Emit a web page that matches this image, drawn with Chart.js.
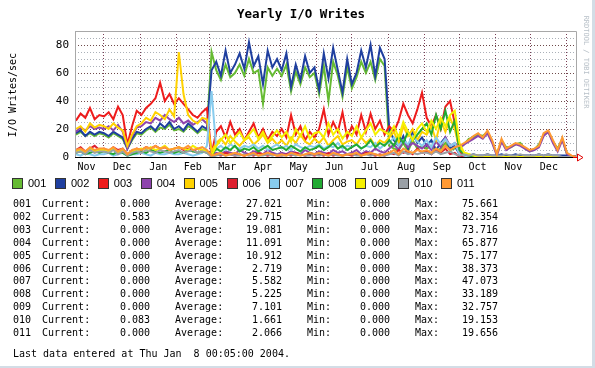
<!DOCTYPE html>
<html>
<head>
    <title>Yearly I/O Writes</title>
    <script src="https://cdn.jsdelivr.net/npm/chart.js@4/dist/chart.umd.min.js"></script>
    <style>
        body {
            margin: 0;
            background-color: #ffffff;
            font-family: "DejaVu Sans Mono", monospace;
        }
        .page {
            position: relative;
            width: 595px;
            height: 368px;
            overflow: hidden;
            background-color: #ffffff;
        }
        #chart {
            position: absolute;
            left: 0;
            top: 0;
        }
        .title {
            position: absolute;
            top: 6px;
            left: 0;
            width: 602px;
            text-align: center;
            font-weight: bold;
            font-size: 12.5px;
            color: #000;
        }
        .ylabel {
            position: absolute;
            left: 12px;
            top: 95px;
            font-size: 10px;
            white-space: nowrap;
            transform: translate(-50%, -50%) rotate(-90deg);
        }
        .stamp {
            position: absolute;
            left: 586px;
            top: 62px;
            font-size: 7px;
            color: #b8c0c8;
            white-space: nowrap;
            transform: translate(-50%, -50%) rotate(90deg);
        }
        .edge-r {
            position: absolute; right: 0; top: 0; width: 3px; height: 368px;
            background: #d3dde6;
        }
        .edge-b {
            position: absolute; left: 0; bottom: 0; width: 595px; height: 2px;
            background: #d3dde6;
        }
        .legend-item {
            position: absolute;
            top: 178px;
            font-family: "Liberation Sans", Arial, sans-serif;
            font-size: 11px;
            line-height: 11px;
            white-space: nowrap;
        }
        .legend-item span {
            display: inline-block;
            width: 9px;
            height: 9px;
            border: 1px solid #333;
            vertical-align: top;
            margin-right: 5px;
        }
        .stat {
            position: absolute;
            font-size: 10px;
            line-height: 10px;
            white-space: pre;
        }
    </style>
</head>
<body>
<div class="page" id="page">
    <canvas id="chart" width="595" height="368"></canvas>
    <div class="title">Yearly I/O Writes</div>
    <div class="ylabel">I/O Writes/sec</div>
    <div class="stamp">RRDTOOL / TOBI OETIKER</div>
    <div class="edge-r"></div>
    <div class="edge-b"></div>
</div>

<script>
    // time axis: days counted from 1 Nov 2002, one sample every 4 days
    const days = Array.from({length: 108}, (_, i) => 6 + 4 * i);

    const monthLabels = ['Nov', 'Dec', 'Jan', 'Feb', 'Mar', 'Apr', 'May', 'Jun',
                         'Jul', 'Aug', 'Sep', 'Oct', 'Nov', 'Dec'];
    const monthStarts = [0, 30, 61, 92, 120, 151, 181, 212, 242, 273, 304, 334, 365, 395, 426];

    const seriesNames = ['001', '002', '003', '004', '005', '006', '007', '008', '009', '010', '011'];
    const seriesColors = ['#66bb33', '#1f3f9f', '#ee1c1c', '#8e44ad', '#ffd200', '#dd1f2f',
                          '#88ccee', '#22aa33', '#f5f000', '#9aa0a6', '#ff9933'];

    const s001 = [16, 18, 15, 17, 15, 17,
                  16, 14, 17, 15, 13, 6, 12, 17,
                  16, 19, 21, 18, 21, 20, 23, 19,
                  20, 18, 22, 20, 17, 20, 19,
                  75, 62, 55, 66, 57, 60, 66, 58,
                  70, 60, 62, 38, 64, 58, 63,
                  58, 66, 47, 61, 52, 64, 57, 60,
                  45, 65, 40, 68, 58, 43, 64,
                  49, 57, 68, 60, 68, 55, 70, 65,
                  8, 6, 5, 10, 4, 12, 6, 8,
                  6, 8, 4, 6, 10, 5, 6,
                  7, 9, 13, 14, 16, 15, 18, 11,
                  2, 12, 7, 7, 9, 10, 6, 4,
                  5, 9, 16, 18, 11, 6, 13,
                  2, 0.5, 0];
    const s002 = [17, 19, 15, 18, 16, 18,
                  17, 15, 18, 16, 14, 6, 13, 18,
                  17, 20, 22, 19, 24, 21, 25, 20,
                  22, 19, 24, 21, 18, 22, 20,
                  62, 68, 58, 76, 60, 66, 74, 63,
                  82, 65, 72, 52, 76, 64, 70,
                  62, 74, 50, 66, 55, 72, 60, 64,
                  48, 74, 56, 78, 62, 46, 70,
                  52, 60, 76, 64, 80, 58, 78, 70,
                  20, 12, 8, 15, 6, 18, 10, 14,
                  8, 12, 5, 10, 14, 6, 8,
                  2, 1, 1, 2, 1, 1, 2, 1,
                  1, 2, 1, 1, 2, 1, 1, 1,
                  1, 2, 1, 2, 1, 1, 1,
                  1, 0.6, 0.6];
    const s003 = [26, 31, 28, 35, 27, 30,
                  29, 32, 27, 36, 30, 9, 22, 33,
                  30, 35, 38, 42, 53, 40, 45, 38,
                  42, 38, 34, 30, 28, 32, 35,
                  2, 18, 22, 14, 25, 16, 20, 12,
                  18, 24, 14, 20, 12, 18, 15,
                  20, 14, 30, 16, 22, 12, 18, 14,
                  20, 34, 16, 25, 18, 32, 14,
                  22, 16, 30, 18, 31, 20, 26, 16,
                  22, 18, 26, 38, 30, 24, 34, 46,
                  28, 22, 30, 20, 36, 40, 24,
                  4, 1, 0, 0, 0, 0, 0, 0,
                  0, 0, 0, 0, 0, 0, 0, 0,
                  0, 0, 0, 0, 0, 0, 0,
                  0, 0, 0];
    const s004 = [18, 21, 19, 22, 20, 21,
                  20, 22, 19, 23, 18, 6, 15, 21,
                  22, 25, 24, 28, 26, 30, 27, 25,
                  28, 24, 26, 23, 25, 27, 24,
                  1, 3, 2, 4, 3, 2, 5, 3,
                  2, 4, 3, 2, 5, 3, 2,
                  3, 2, 4, 3, 2, 5, 3, 2,
                  4, 3, 2, 5, 3, 4, 2,
                  3, 5, 2, 4, 3, 6, 4, 3,
                  6, 9, 5, 12, 7, 10, 8, 6,
                  9, 5, 11, 7, 14, 8, 10,
                  6, 9, 11, 13, 15, 13, 17, 10,
                  1, 11, 5, 7, 9, 8, 6, 4,
                  5, 7, 15, 18, 10, 4, 12,
                  2, 0, 0];
    const s005 = [20, 22, 18, 24, 21, 23,
                  22, 20, 24, 21, 19, 8, 16, 22,
                  24, 28, 26, 32, 30, 27, 34, 29,
                  75, 45, 30, 26, 24, 28, 27,
                  4, 10, 13, 9, 15, 11, 8, 12,
                  14, 9, 12, 16, 10, 13, 9,
                  12, 8, 14, 10, 16, 11, 9, 13,
                  10, 14, 8, 12, 15, 9, 11,
                  12, 9, 14, 10, 13, 8, 12, 10,
                  14, 18, 10, 22, 15, 20, 12, 18,
                  16, 22, 12, 26, 18, 28, 20,
                  6, 3, 2, 1, 1, 0, 0, 0,
                  0, 0, 0, 0, 0, 0, 0, 0,
                  0, 0, 0, 0, 0, 0, 0,
                  0, 0, 0];
    const s006 = [5, 7, 4, 6, 8, 5,
                  6, 4, 7, 5, 6, 2, 4, 6,
                  5, 7, 6, 8, 6, 7, 5, 6,
                  7, 5, 6, 4, 6, 5, 4,
                  0, 2, 1, 3, 2, 1, 2, 1,
                  2, 1, 3, 2, 1, 2, 1,
                  1, 2, 1, 3, 2, 1, 2, 1,
                  2, 1, 3, 1, 2, 1, 2,
                  1, 2, 1, 3, 2, 1, 2, 1,
                  3, 2, 5, 3, 4, 2, 6, 3,
                  4, 2, 5, 3, 6, 2, 3,
                  0, 0, 0, 0, 0, 0, 0, 0,
                  0, 0, 0, 0, 0, 0, 0, 0,
                  0, 0, 0, 0, 0, 0, 0,
                  0, 0, 0];
    const s007 = [2, 1, 3, 2, 1, 2,
                  2, 3, 1, 2, 3, 1, 2, 2,
                  3, 2, 1, 3, 2, 2, 3, 2,
                  2, 3, 2, 1, 2, 3, 8,
                  47, 6, 8, 5, 9, 7, 6, 8,
                  7, 9, 6, 8, 5, 7, 9,
                  6, 8, 5, 9, 7, 6, 8, 7,
                  9, 6, 8, 7, 10, 6, 8,
                  7, 9, 6, 8, 7, 10, 6, 9,
                  10, 14, 8, 12, 9, 15, 11, 8,
                  12, 7, 14, 9, 13, 8, 10,
                  2, 1, 0, 0, 0, 0, 0, 0,
                  0, 0, 0, 0, 0, 0, 0, 0,
                  0, 0, 0, 0, 0, 0, 0,
                  0, 0, 0];
    const s008 = [3, 4, 2, 3, 4, 3,
                  4, 3, 2, 4, 3, 1, 2, 3,
                  4, 3, 5, 4, 3, 4, 5, 3,
                  4, 3, 5, 4, 3, 4, 3,
                  1, 6, 4, 7, 5, 8, 4, 6,
                  5, 7, 4, 6, 8, 5, 6,
                  7, 5, 8, 6, 4, 7, 5, 6,
                  8, 5, 7, 10, 6, 8, 5,
                  7, 9, 6, 8, 12, 7, 10, 8,
                  12, 8, 15, 10, 18, 12, 16, 20,
                  24, 16, 30, 20, 33, 18, 26,
                  5, 2, 1, 0, 0, 0, 0, 0,
                  0, 0, 0, 0, 0, 0, 0, 0,
                  0, 0, 0, 0, 0, 0, 0,
                  0, 0, 0];
    const s009 = [4, 5, 3, 6, 4, 5,
                  5, 4, 6, 3, 5, 2, 4, 5,
                  6, 5, 7, 5, 6, 8, 5, 6,
                  7, 6, 5, 8, 6, 5, 4,
                  1, 8, 12, 16, 10, 14, 18, 12,
                  16, 20, 13, 18, 11, 15, 19,
                  14, 18, 11, 20, 15, 22, 13, 17,
                  18, 14, 24, 16, 20, 13, 18,
                  15, 22, 14, 19, 24, 16, 20, 18,
                  16, 22, 14, 25, 18, 12, 20, 24,
                  18, 26, 20, 28, 22, 30, 33,
                  10, 3, 2, 1, 0, 0, 0, 0,
                  0, 0, 0, 0, 0, 0, 0, 0,
                  0, 0, 0, 0, 0, 0, 0,
                  0, 0, 0];
    const s010 = [3, 4, 2, 5, 3, 4,
                  4, 3, 5, 2, 4, 1, 3, 4,
                  3, 5, 4, 3, 5, 4, 3, 4,
                  5, 3, 4, 5, 3, 4, 3,
                  0, 1, 2, 1, 2, 1, 1, 2,
                  1, 2, 1, 1, 2, 1, 2,
                  1, 1, 2, 1, 2, 1, 1, 2,
                  1, 2, 1, 2, 1, 1, 2,
                  2, 1, 1, 2, 1, 2, 1, 1,
                  2, 3, 1, 4, 2, 3, 2, 3,
                  3, 2, 4, 2, 3, 4, 2,
                  1, 2, 1, 2, 1, 1, 2, 1,
                  1, 1, 2, 1, 1, 2, 1, 1,
                  1, 2, 1, 2, 1, 1, 0,
                  0, 0.1, 0.1];
    const s011 = [5, 6, 4, 7, 5, 6,
                  6, 5, 7, 4, 6, 2, 5, 6,
                  5, 7, 6, 8, 6, 7, 5, 6,
                  7, 6, 8, 5, 6, 7, 5,
                  1, 2, 3, 1, 2, 3, 2, 1,
                  2, 3, 1, 2, 3, 2, 1,
                  2, 1, 3, 2, 1, 2, 3, 2,
                  3, 2, 1, 3, 2, 1, 2,
                  2, 3, 1, 2, 3, 2, 1, 2,
                  3, 5, 2, 6, 4, 3, 5, 4,
                  5, 3, 6, 4, 8, 5, 7,
                  8, 10, 12, 15, 17, 14, 19, 12,
                  2, 13, 6, 8, 10, 9, 7, 5,
                  6, 8, 17, 19, 12, 5, 14,
                  3, 1, 0];

    const seriesValues = [s001, s002, s003, s004, s005, s006, s007, s008, s009, s010, s011];

    // summary lines under the graph
    const statCurrent = [0.000, 0.583, 0.000, 0.000, 0.000, 0.000, 0.000, 0.000, 0.000, 0.083, 0.000];
    const statAverage = [27.021, 29.715, 19.081, 11.091, 10.912, 2.719, 5.582, 5.225, 7.101, 1.661, 2.066];
    const statMin = [0.000, 0.000, 0.000, 0.000, 0.000, 0.000, 0.000, 0.000, 0.000, 0.000, 0.000];
    const statMax = [75.661, 82.354, 73.716, 65.877, 75.177, 38.373, 47.073, 33.189, 32.757, 19.153, 19.656];

    const page = document.getElementById('page');

    // legend row
    seriesNames.forEach((name, i) => {
        const div = document.createElement('div');
        div.className = 'legend-item';
        div.style.left = (12 + i * 42.9) + 'px';
        div.innerHTML = '<span style="background:' + seriesColors[i] + '"></span>' + name;
        page.appendChild(div);
    });

    function addText(text, x, y, alignRight) {
        const div = document.createElement('div');
        div.className = 'stat';
        div.textContent = text;
        div.style.top = (y - 5) + 'px';
        if (alignRight) {
            div.style.right = (595 - x) + 'px';
        } else {
            div.style.left = x + 'px';
        }
        page.appendChild(div);
    }

    seriesNames.forEach((name, i) => {
        const y = 204 + i * 12.9;
        addText(name, 13, y);
        addText('Current:', 42, y);
        addText(statCurrent[i].toFixed(3), 150, y, true);
        addText('Average:', 175, y);
        addText(statAverage[i].toFixed(3), 282, y, true);
        addText('Min:', 307, y);
        addText(statMin[i].toFixed(3), 390, y, true);
        addText('Max:', 415, y);
        addText(statMax[i].toFixed(3), 498, y, true);
    });
    addText('Last data entered at Thu Jan  8 00:05:00 2004.', 13, 354);

    // month boundaries get grid lines, mid months get the labels
    const gridTicks = [];
    const labelAt = {};
    monthLabels.forEach((m, i) => {
        const mid = (monthStarts[i] + monthStarts[i + 1]) / 2;
        labelAt[mid] = m;
        gridTicks.push({value: mid});
        if (i > 0) gridTicks.push({value: monthStarts[i]});
    });
    gridTicks.push({value: monthStarts[monthStarts.length - 1]});
    gridTicks.sort((a, b) => a.value - b.value);

    const frame = {
        id: 'frame',
        afterDraw(chart) {
            const {ctx, chartArea: a} = chart;
            ctx.save();
            ctx.strokeStyle = '#a8a8a8';
            ctx.lineWidth = 1;
            ctx.beginPath();
            ctx.moveTo(a.left + 0.5, a.bottom);
            ctx.lineTo(a.left + 0.5, a.top + 0.5);
            ctx.lineTo(a.right + 0.5, a.top + 0.5);
            ctx.lineTo(a.right + 0.5, a.bottom);
            ctx.stroke();
            // x axis with arrow
            ctx.strokeStyle = '#000';
            ctx.beginPath();
            ctx.moveTo(a.left, a.bottom + 0.5);
            ctx.lineTo(a.right, a.bottom + 0.5);
            ctx.stroke();
            ctx.strokeStyle = '#e00000';
            ctx.beginPath();
            ctx.moveTo(a.right - 3, a.bottom + 0.5);
            ctx.lineTo(a.right + 2, a.bottom + 0.5);
            ctx.moveTo(a.right + 1.5, a.bottom - 3);
            ctx.lineTo(a.right + 7, a.bottom + 0.5);
            ctx.lineTo(a.right + 1.5, a.bottom + 4);
            ctx.closePath();
            ctx.stroke();
            ctx.restore();
        }
    };

    new Chart(document.getElementById('chart'), {
        type: 'line',
        data: {
            datasets: seriesNames.map((name, i) => ({
                label: name,
                data: days.map((d, k) => ({x: d, y: seriesValues[i][k]})),
                borderColor: seriesColors[i],
                backgroundColor: seriesColors[i],
                borderWidth: 2,
                pointRadius: 0,
                tension: 0,
                order: seriesNames.length - i
            }))
        },
        options: {
            responsive: false,
            animation: false,
            events: [],
            layout: {padding: {top: 31, left: 0, right: 19, bottom: 193}},
            plugins: {
                legend: {display: false},
                tooltip: {enabled: false}
            },
            scales: {
                x: {
                    type: 'linear',
                    min: 5.2,
                    max: 433.7,
                    afterBuildTicks(scale) {
                        scale.ticks = gridTicks.map(t => ({value: t.value}));
                    },
                    afterFit(scale) { scale.height = 18; },
                    ticks: {
                        autoSkip: false,
                        maxRotation: 0,
                        padding: 4,
                        color: '#000',
                        font: {family: 'DejaVu Sans Mono', size: 10},
                        callback: (v) => labelAt[v] || ''
                    },
                    grid: {
                        drawTicks: false,
                        color: (c) => (c.tick && labelAt[c.tick.value] === undefined) ? '#7a3f55' : 'rgba(0,0,0,0)',
                        lineWidth: 1
                    },
                    border: {display: false, dash: [1, 2]}
                },
                y: {
                    min: 0,
                    max: 90,
                    afterFit(scale) { scale.width = 75; },
                    ticks: {
                        stepSize: 5,
                        autoSkip: false,
                        padding: 6,
                        color: '#000',
                        font: {family: 'DejaVu Sans Mono', size: 11},
                        callback: (v) => v % 20 === 0 ? String(v) : ''
                    },
                    grid: {
                        drawTicks: false,
                        color: (c) => (c.tick && c.tick.value % 20 === 0) ? '#6e4a4a' : '#aab0b8',
                        lineWidth: 1
                    },
                    border: {display: false, dash: [1, 2]}
                }
            }
        },
        plugins: [frame]
    });
</script>
</body>
</html>
